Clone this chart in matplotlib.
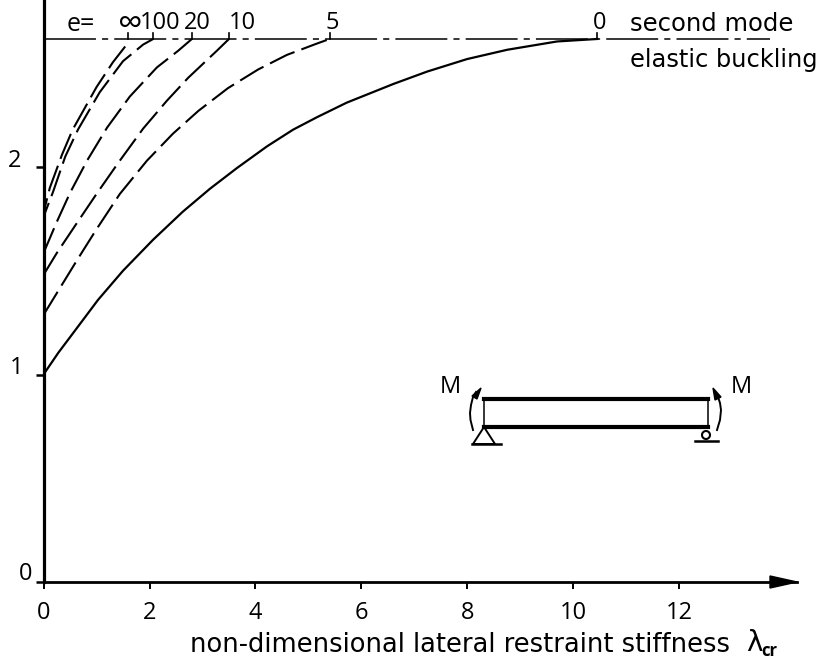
import matplotlib
matplotlib.use('Agg')
import matplotlib.pyplot as plt
from matplotlib.patches import Circle, Polygon
from matplotlib.transforms import Affine2D

plt.rcParams['font.family'] = ['Open Sans', 'DejaVu Sans']

W, H = 823, 663

# ── curves ────────────────────────────────────────────────────────────────────
x_e0 = [0, 0.28, 0.56, 1.03, 1.5, 2.07, 2.63, 3.14, 3.65, 4.22, 4.71, 5.16, 5.72, 6.16, 6.6, 7.24, 7.99, 8.75, 9.69, 10.45]
y_e0 = [1.0, 1.105, 1.20, 1.36, 1.50, 1.65, 1.785, 1.895, 1.995, 2.10, 2.18, 2.24, 2.31, 2.355, 2.40, 2.46, 2.52, 2.565, 2.605, 2.617]

x_e5 = [0, 0.27, 0.63, 1.0, 1.44, 1.95, 2.44, 2.92, 3.48, 4.05, 4.59, 5.16, 5.4]
y_e5 = [1.287, 1.40, 1.55, 1.70, 1.87, 2.03, 2.16, 2.27, 2.38, 2.47, 2.54, 2.595, 2.617]

x_e10 = [0, 0.25, 0.63, 1.0, 1.41, 1.88, 2.33, 2.73, 3.27, 3.5]
y_e10 = [1.48, 1.585, 1.73, 1.87, 2.02, 2.185, 2.32, 2.43, 2.56, 2.617]

x_e20 = [0, 0.25, 0.5, 0.82, 1.2, 1.63, 2.14, 2.54, 2.8]
y_e20 = [1.585, 1.735, 1.875, 2.03, 2.19, 2.34, 2.48, 2.56, 2.617]

x_e100 = [0, 0.03, 0.18, 0.41, 0.65, 1.06, 1.5, 1.88, 2.07]
y_e100 = [1.70, 1.78, 1.88, 2.05, 2.18, 2.36, 2.51, 2.59, 2.617]

x_einf = [0, 0.03, 0.12, 0.35, 0.55, 1.0, 1.31, 1.6]
y_einf = [1.72, 1.81, 1.90, 2.06, 2.18, 2.385, 2.505, 2.60]

buckling_y = 2.617
buckling_xmax = 13.7

x_ticks = [0, 2, 4, 6, 8, 10, 12]
y_ticks = [0, 1, 2]

e_labels = ['\u221e', '100', '20', '10', '5', '0']

# ── axes placed so the data scale lines up with the scan ──────────────────────
X0, XS = 43.5, 53.0    # px of x=0, px per unit
Y0, YS = 582, 207.5    # px of y=0, px per unit
right = 797

fig = plt.figure(figsize=(W / 100, H / 100), dpi=100)
ax = fig.add_axes([X0 / W, (H - Y0) / H, (right - X0) / W, Y0 / H])
ax.set_xlim(0, (right - X0) / XS)
ax.set_ylim(0, Y0 / YS)
ax.patch.set_visible(False)

for s in ['top', 'right']:
    ax.spines[s].set_visible(False)
ax.spines['left'].set_linewidth(2.3)
ax.spines['bottom'].set_linewidth(2.0)

ax.set_xticks(x_ticks)
ax.set_yticks(y_ticks)
ax.set_yticklabels([])
ax.tick_params(axis='x', direction='out', length=5, width=1.4, pad=9, labelsize=17)
ax.tick_params(axis='y', direction='out', length=6, width=1.8)

# y labels sit a bit above their ticks in the scan
for t, off in zip(y_ticks, [(-13, 6), (-19, 4.5), (-21, 4.5)]):
    ax.annotate(str(t), xy=(0, t), xytext=off, textcoords='offset points',
                ha='center', va='center', fontsize=17)

# curves
ax.plot(x_e0, y_e0, 'k-', lw=1.6)
dash = (0, (13, 3.5))
for xs, ys in [(x_e5, y_e5), (x_e10, y_e10), (x_e20, y_e20), (x_e100, y_e100), (x_einf, y_einf)]:
    ax.plot(xs, ys, color='k', lw=1.5, ls=dash)

# second mode line
ax.plot([0, buckling_xmax], [buckling_y, buckling_y], color='k', lw=1.1,
        ls=(0, (34, 4, 4, 4)))

# small ticks and labels on top of the line
ends = [x_einf[-1], x_e100[-1], x_e20[-1], x_e10[-1], x_e5[-1], x_e0[-1]]
offs = [1, 5, 4, 9.5, 2, 1.5]
for xe, lab, off in zip(ends, e_labels, offs):
    ax.plot([xe, xe], [buckling_y, buckling_y + 0.03], color='k', lw=1.2)
    is_inf = lab == '\u221e'
    ax.annotate(lab, xy=(xe, buckling_y), xytext=(off, 10 if is_inf else 11.5), textcoords='offset points',
                ha='center', va='center', fontsize=25 if is_inf else 17)
ax.annotate('e=', xy=(0, buckling_y), xytext=(17, 10.5), textcoords='offset points',
            ha='left', va='center', fontsize=18)

# ── things placed in scan pixels ──────────────────────────────────────────────
px = Affine2D().scale(1 / W, -1 / H).translate(0, 1) + fig.transFigure

def txt(x, y, s, **kw):
    fig.text(x, y, s, transform=px, va='center', **kw)

txt(630, 24, 'second mode', fontsize=17.5, family=['DejaVu Sans'])
txt(630, 60, 'elastic buckling', fontsize=17.4, family=['DejaVu Sans'])
txt(190, 645, 'non-dimensional lateral restraint stiffness', fontsize=18.5, family=['DejaVu Sans'])
txt(746, 643, '\u03bb', fontsize=20, family=['DejaVu Sans'])
txt(761, 651, 'cr', fontsize=12, fontweight='bold')

# arrow head on x axis
fig.add_artist(Polygon([[770, 576], [797, 582], [770, 588]], closed=True, color='k', transform=px))

# beam
def line(xs, ys, lw=1.2):
    fig.add_artist(plt.Line2D(xs, ys, color='k', lw=lw, transform=px))

line([484, 708], [399, 399], 3.0)
line([484, 708], [427, 427], 3.0)
line([484, 484], [399, 427], 1.1)
line([708, 708], [399, 427], 1.1)
line([484, 473, 495, 484], [427, 444, 444, 427], 1.4)
line([472, 501], [444, 444], 1.8)
fig.add_artist(Circle((706, 435), 4, fill=False, ec='k', lw=1.5, transform=px))
line([695, 718], [441, 441], 1.8)
txt(450, 387, 'M', fontsize=17, ha='center')
txt(741, 387, 'M', fontsize=17, ha='center')

# moment arrows
line([473, 470.5, 470, 471, 473, 476], [430, 420, 413, 405, 397, 392], 1.4)
fig.add_artist(Polygon([[481, 388], [472, 396], [477, 399]], closed=True, color='k', transform=px))
line([717, 720, 721, 720, 718], [430, 420, 410, 403, 397], 1.4)
fig.add_artist(Polygon([[713, 388], [715, 400], [721, 397]], closed=True, color='k', transform=px))

fig.savefig('out.png', dpi=100)
